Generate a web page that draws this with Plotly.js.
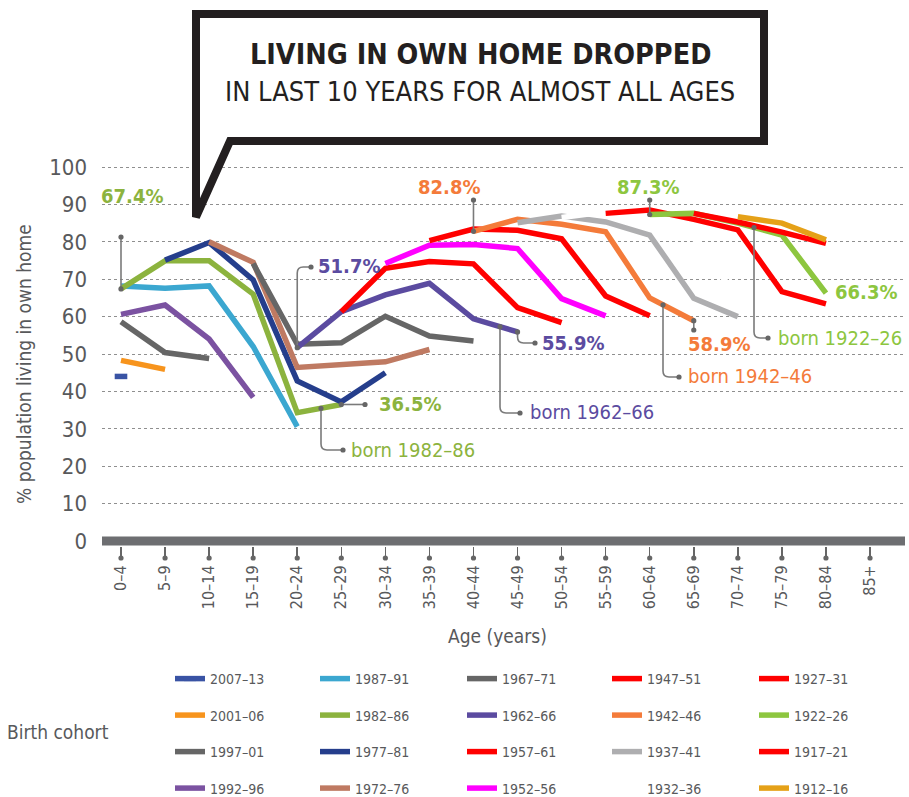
<!DOCTYPE html>
<html><head><meta charset="utf-8">
<script src="https://cdn.plot.ly/plotly-3.0.1.min.js"></script>
<style>html,body{margin:0;padding:0;background:#fff}</style>
</head><body><div id="chart" style="width:909px;height:797px"></div>
<script>
// ---------- DATA ----------
const ageGroups = ["0–4","5–9","10–14","15–19","20–24","25–29","30–34","35–39","40–44","45–49","50–54","55–59","60–64","65–69","70–74","75–79","80–84","85+"];
const cohorts = ["2007–13","2001–06","1997–01","1992–96","1987–91","1982–86","1977–81","1972–76","1967–71","1962–66","1957–61","1952–56","1947–51","1942–46","1937–41","1932–36","1927–31","1922–26","1917–21","1912–16"];
const firstAge = ["0–4","0–4","0–4","0–4","0–4","0–4","5–9","10–14","15–19","20–24","25–29","30–34","35–39","40–44","45–49","50–54","55–59","60–64","65–69","70–74"];
const pct2007_13 = [44.0];
const pct2001_06 = [48.3, 45.9];
const pct1997_01 = [58.6, 50.4, 48.8];
const pct1992_96 = [60.6, 63.1, 54.0, 38.4];
const pct1987_91 = [68.2, 67.6, 68.2, 52.0, 30.6];
const pct1982_86 = [67.4, 74.9, 74.9, 66.0, 34.3, 36.5];
const pct1977_81 = [75.1, 79.8, 69.8, 42.8, 37.2, 45.0];
const pct1972_76 = [80.0, 74.5, 46.4, 47.1, 47.9, 51.2];
const pct1967_71 = [74.2, 52.6, 53.0, 60.1, 54.8, 53.5];
const pct1962_66 = [51.7, 61.3, 65.8, 68.9, 59.4, 55.9];
const pct1957_61 = [61.3, 72.9, 74.7, 74.1, 62.4, 58.4];
const pct1952_56 = [74.2, 79.1, 79.3, 78.2, 64.8, 60.2];
const pct1947_51 = [80.3, 83.4, 83.1, 80.8, 65.5, 60.2];
const pct1942_46 = [82.8, 86.0, 84.7, 82.7, 65.0, 58.9];
const pct1937_41 = [85.1, 86.9, 85.3, 81.8, 64.9, 60.0];
const pct1932_36 = [86.5, 88.0, 87.0, 81.0, 65.0, 61.0];
const pct1927_31 = [87.6, 88.5, 86.0, 83.2, 66.7, 63.4];
const pct1922_26 = [87.3, 87.6, 85.0, 81.8, 66.3];
const pct1917_21 = [87.6, 85.3, 82.6, 79.6];
const pct1912_16 = [86.7, 85.0, 80.5];
const pctSeries = [pct2007_13,pct2001_06,pct1997_01,pct1992_96,pct1987_91,pct1982_86,pct1977_81,pct1972_76,pct1967_71,pct1962_66,pct1957_61,pct1952_56,pct1947_51,pct1942_46,pct1937_41,pct1932_36,pct1927_31,pct1922_26,pct1917_21,pct1912_16];
const yTicks = [0,10,20,30,40,50,60,70,80,90,100];

// ---------- STYLE ----------
const colors = ["#3953a4","#f7941d","#666666","#7b52a1","#3ba7d0","#8cb33e","#253e8c","#bf7a62","#666666","#5b4ba0","#ff0000","#ff00ff","#ff0000","#f47b3a","#aeaeb0","#ffffff","#ff0000","#8dc63f","#ff0000","#e5a118"];
const FONT = "'DejaVu Sans Condensed','Liberation Sans Narrow','Roboto Condensed',Roboto,sans-serif";
const GREY_TXT = "#58595b";
const W=909, H=797, PL=102, PR=905, PT=150, PB=546;
const X0PX=121, XSTEP=44.06, Y0PX=541, YSTEP=3.74;
const dx = px => (px - X0PX)/XSTEP;
const dy = py => (Y0PX - py)/YSTEP;
const paperX = px => (px - PL)/(PR - PL);
const paperY = py => (PB - py)/(PB - PT);

// ---------- TRACES ----------
const traces = cohorts.map((name,k) => {
  const s = ageGroups.indexOf(firstAge[k]);
  const v = pctSeries[k];
  const t = {
    type:'scatter', mode:'lines', name:name,
    x: v.map((_,i)=>s+i), y: v,
    line:{color:colors[k], width:5.5},
    legend: k<4 ? 'legend' : 'legend'+(Math.floor(k/4)+1),
    legendgroup: name, hoverinfo:'x+y+name'
  };
  if (v.length === 1) { t.mode = 'lines+markers'; t.marker = {symbol:'line-ew', size:9, color:colors[k], line:{color:colors[k], width:5.5}}; }
  return t;
});

// ---------- CALLOUTS ----------
function startIdx(k){ return ageGroups.indexOf(firstAge[k]); }
function pointAt(k, age){ const i = ageGroups.indexOf(age); return [i, pctSeries[k][i-startIdx(k)]]; }
function onLine(k, xd){ const s=startIdx(k), v=pctSeries[k]; const i=Math.floor(xd-s), f=xd-s-i; return v[i]+(v[i+1]-v[i])*f; }
const LEAD = '#7a7a7a';
const shapes = [];
const annotations = [];
function dot(x,y){ shapes.push({type:'circle', xref:'x', yref:'y', xsizemode:'pixel', ysizemode:'pixel', xanchor:x, yanchor:y, x0:-2.6, x1:2.6, y0:-2.6, y1:2.6, fillcolor:'#666', line:{width:0}, layer:'above'}); }
function straight(x0,y0,x1,y1){ shapes.push({type:'line', xref:'x', yref:'y', x0:x0, y0:y0, x1:x1, y1:y1, line:{color:LEAD, width:1.6}, layer:'above'}); dot(x0,y0); dot(x1,y1); }
function elbow(x0,y0,yEnd,xEnd){
  const r=6, ry=r/YSTEP*(yEnd<y0?1:-1), rx=r/XSTEP;
  const p = `M${x0},${y0} L${x0},${yEnd+ry} Q${x0},${yEnd} ${x0+rx},${yEnd} L${xEnd},${yEnd}`;
  shapes.push({type:'path', xref:'x', yref:'y', path:p, line:{color:LEAD, width:1.6}, layer:'above'});
  dot(x0,y0); dot(xEnd,yEnd);
}
function label(text, px, py, color, anchor, size){
  annotations.push({text:text, xref:'x', yref:'y', x:dx(px), y:dy(py), xanchor:anchor, yanchor:'middle', showarrow:false, font:{family:FONT, size:size, color:color}});
}
const kIdx = name => cohorts.indexOf(name);
const PCT=20, BORN=20;
{ const k=kIdx("1982–86"); const [x,y]=pointAt(k,"0–4"); straight(x,y,x,dy(237)); label('<b>'+y.toFixed(1)+'%</b>',132,196,colors[k],'center',PCT); }
{ const k=kIdx("1962–66"); const [x,y]=pointAt(k,"20–24"); elbow(x,y,dy(267),dx(311)); label('<b>'+y.toFixed(1)+'%</b>',316,266,colors[k],'left',PCT); }
{ const k=kIdx("1982–86"); const [x,y]=pointAt(k,"25–29"); straight(x,y,dx(365),y); label('<b>'+y.toFixed(1)+'%</b>',377,404,colors[k],'left',PCT); }
{ const k=kIdx("1982–86"); const x=dx(321); elbow(x,onLine(k,x),dy(450),dx(343)); label('born '+cohorts[k],349,450,colors[k],'left',BORN); }
{ const k=kIdx("1942–46"); const [x,y]=pointAt(k,"40–44"); straight(x,y,x,dy(200)); label('<b>'+y.toFixed(1)+'%</b>',449,187,colors[k],'center',PCT); }
{ const k=kIdx("1962–66"); const [x,y]=pointAt(k,"45–49"); elbow(x,y,dy(343),dx(535)); label('<b>'+y.toFixed(1)+'%</b>',540,343,colors[k],'left',PCT); }
{ const k=kIdx("1962–66"); const x=dx(500); elbow(x,onLine(k,x),dy(413),dx(520)); label('born '+cohorts[k],528,412,colors[k],'left',BORN); }
{ const k=kIdx("1922–26"); const [x,y]=pointAt(k,"60–64"); straight(x,y,x,dy(200)); label('<b>'+y.toFixed(1)+'%</b>',648,187,colors[k],'center',PCT); }
{ const k=kIdx("1942–46"); const [x,y]=pointAt(k,"65–69"); straight(x,y,x,dy(330)); label('<b>'+y.toFixed(1)+'%</b>',686,344,colors[k],'left',PCT); }
{ const k=kIdx("1942–46"); const x=dx(663); elbow(x,onLine(k,x),dy(377),dx(679)); label('born '+cohorts[k],686,376,colors[k],'left',BORN); }
{ const k=kIdx("1922–26"); const x=dx(754); elbow(x,onLine(k,x),dy(338),dx(768)); label('born '+cohorts[k],776,338,colors[k],'left',BORN); }
{ const k=kIdx("1922–26"); const v=pctSeries[k]; label('<b>'+v[v.length-1].toFixed(1)+'%</b>',833,292,colors[k],'left',PCT); }

shapes.push({type:'line', xref:'paper', yref:'y', x0:0, x1:1, y0:0, y1:0, line:{color:'#6d6e71', width:9}, layer:'above'});
ageGroups.forEach((_,i)=>{ shapes.push({type:'circle', xref:'x', yref:'paper', xsizemode:'pixel', ysizemode:'pixel', xanchor:i, yanchor:paperY(558), x0:-2.6, x1:2.6, y0:-2.6, y1:2.6, fillcolor:'#666', line:{width:0}}); });

shapes.push({type:'path', xref:'paper', yref:'paper', layer:'above',
  path:`M${paperX(196)},${paperY(14)} L${paperX(764)},${paperY(14)} L${paperX(764)},${paperY(141)} L${paperX(230)},${paperY(141)} L${paperX(196)},${paperY(217)} Z`,
  fillcolor:'#ffffff', line:{color:'#231f20', width:8}});
annotations.push({text:'<b>LIVING IN OWN HOME DROPPED</b>', xref:'paper', yref:'paper', x:paperX(480), y:paperY(54), xanchor:'center', yanchor:'middle', showarrow:false, font:{family:FONT, size:28.5, color:'#231f20'}});
annotations.push({text:'IN LAST 10 YEARS FOR ALMOST ALL AGES', xref:'paper', yref:'paper', x:paperX(480), y:paperY(91), xanchor:'center', yanchor:'middle', showarrow:false, font:{family:FONT, size:27, color:'#231f20'}});
annotations.push({text:'% population living in own home', xref:'paper', yref:'paper', x:paperX(24), y:paperY(364), xanchor:'center', yanchor:'middle', textangle:-90, showarrow:false, font:{family:FONT, size:19, color:GREY_TXT}});
annotations.push({text:'Age (years)', xref:'paper', yref:'paper', x:paperX(497), y:paperY(636), xanchor:'center', yanchor:'middle', showarrow:false, font:{family:FONT, size:19, color:GREY_TXT}});
annotations.push({text:'Birth cohort', xref:'paper', yref:'paper', x:paperX(5), y:paperY(732), xanchor:'left', yanchor:'middle', showarrow:false, font:{family:FONT, size:19, color:GREY_TXT}});

const legCols = [176, 321, 468, 613, 760];
const legBase = {orientation:'v', yanchor:'top', xanchor:'left', bgcolor:'rgba(0,0,0,0)', borderwidth:0, tracegroupgap:15.3, font:{family:FONT, size:14, color:GREY_TXT}};
const layout = {
  width:W, height:H, margin:{l:PL, r:W-PR, t:PT, b:H-PB, pad:0, autoexpand:false},
  paper_bgcolor:'#fff', plot_bgcolor:'#fff', showlegend:true,
  xaxis:{range:[dx(PL), dx(PR)], tickvals:ageGroups.map((_,i)=>i), ticktext:ageGroups, tickangle:-90, automargin:false,
    ticks:'outside', ticklen:12, tickwidth:1.5, tickcolor:'#666', showgrid:false, zeroline:false, showline:false,
    tickfont:{family:FONT, size:16, color:GREY_TXT}, fixedrange:true},
  yaxis:{range:[dy(PB), dy(PT)], tickvals:yTicks, ticktext:yTicks.map(String), showgrid:true, griddash:'dot', gridcolor:'#8f8f8f', gridwidth:1, automargin:false,
    zeroline:false, showline:false, ticks:'', ticklabelstandoff:14, tickfont:{family:FONT, size:22, color:GREY_TXT}, fixedrange:true},
  shapes:shapes, annotations:annotations
};
legCols.forEach((px,c)=>{ layout[c===0?'legend':'legend'+(c+1)] = Object.assign({}, legBase, {x:paperX(px-6), y:paperY(663)}); });
Plotly.newPlot('chart', traces, layout, {displayModeBar:false, staticPlot:true});
</script></body></html>
